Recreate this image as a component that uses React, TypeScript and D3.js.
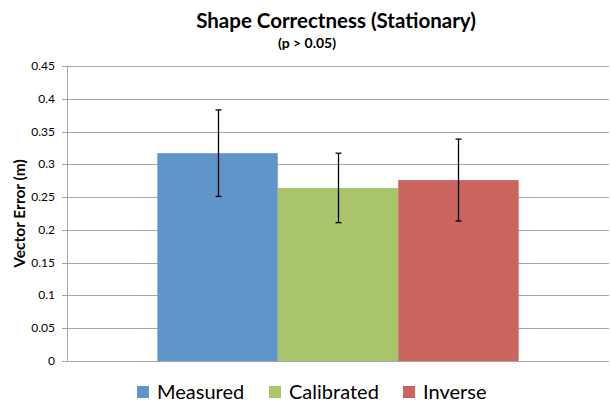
import React from "react";
import * as d3 from "d3";

const series = ["Measured", "Calibrated", "Inverse"];
const values = [0.317, 0.264, 0.276];
const errors = [0.066, 0.053, 0.0625];
const colors = ["#5f95c9", "#a9c46b", "#cb655f"];
const yTicks = [0, 0.05, 0.1, 0.15, 0.2, 0.25, 0.3, 0.35, 0.4, 0.45];
const title = "Shape Correctness (Stationary)";
const subtitle = "(p > 0.05)";
const yLabel = "Vector Error (m)";

const W = 610, H = 409;
const left = 67, right = 609, top = 66, bottom = 361;
const FONT = "Lato, 'Open Sans', sans-serif";

export default function App() {
  const y = d3.scaleLinear().domain([0, 0.45]).range([bottom, top]);
  const x = d3.scaleBand<string>().domain(series).range([left, right]).paddingInner(0).paddingOuter(0.75);
  const bw = x.bandwidth();
  const legendX = [137, 269, 403];
  return (
    <svg width={W} height={H} style={{ position: "absolute", left: 0, top: 0, background: "#fff" }}>
      <text x={336} y={28} textAnchor="middle" fontFamily={FONT} fontWeight="bold" fontSize={20.5} fill="#000">{title}</text>
      <text x={307} y={48} textAnchor="middle" fontFamily={FONT} fontWeight="bold" fontSize={14} fill="#000">{subtitle}</text>
      {yTicks.map((t, i) => (
        <g key={i}>
          <line x1={left} x2={right} y1={Math.round(y(t)) + 0.5} y2={Math.round(y(t)) + 0.5} stroke="#a6a6a6" strokeWidth={1} />
          <line x1={left - 5} x2={left} y1={Math.round(y(t)) + 0.5} y2={Math.round(y(t)) + 0.5} stroke="#a6a6a6" strokeWidth={1} />
          <text x={55} y={y(t) + 4} textAnchor="end" fontFamily={FONT} fontSize={12} fill="#000">{String(+t.toFixed(2))}</text>
        </g>
      ))}
      <line x1={left + 0.5} x2={left + 0.5} y1={top} y2={bottom} stroke="#a6a6a6" strokeWidth={1} />
      {series.map((s, i) => (
        <rect key={s} x={x(s)!} y={y(values[i])} width={bw} height={bottom - y(values[i])} fill={colors[i]} />
      ))}
      <line x1={left} x2={right} y1={bottom + 0.5} y2={bottom + 0.5} stroke="#a6a6a6" strokeWidth={1} />
      {series.map((s, i) => {
        const cx = Math.round(x(s)! + bw / 2) + 0.5;
        const y1 = y(values[i] + errors[i]);
        const y2 = y(values[i] - errors[i]);
        return (
          <g key={s} stroke="#000" strokeWidth={1.3}>
            <line x1={cx} x2={cx} y1={y1} y2={y2} />
            <line x1={cx - 3} x2={cx + 3} y1={y1} y2={y1} />
            <line x1={cx - 3} x2={cx + 3} y1={y2} y2={y2} />
          </g>
        );
      })}
      <text transform={`translate(25,${(top + bottom) / 2}) rotate(-90)`} textAnchor="middle" fontFamily={FONT} fontWeight="bold" fontSize={15.5} fill="#000">{yLabel}</text>
      {series.map((s, i) => (
        <g key={s}>
          <rect x={legendX[i]} y={386} width={12} height={12} fill={colors[i]} />
          <text x={legendX[i] + 20} y={398.5} fontFamily={FONT} fontSize={20} fill="#000">{s}</text>
        </g>
      ))}
    </svg>
  );
}
